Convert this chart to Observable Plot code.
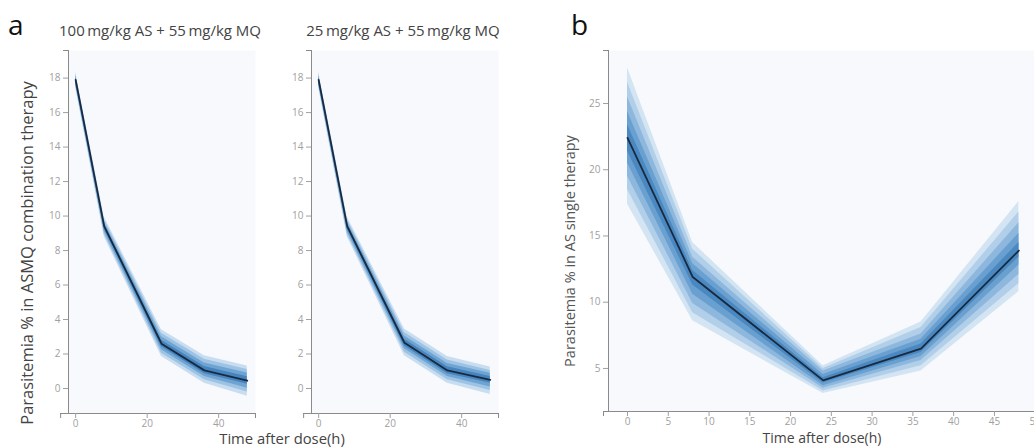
<!DOCTYPE html>
<html>
<head>
<meta charset="utf-8">
<script src="https://cdn.jsdelivr.net/npm/d3@7"></script>
<script src="https://cdn.jsdelivr.net/npm/@observablehq/plot@0.6"></script>
<style>
  html, body { margin: 0; padding: 0; background: #fff; overflow: hidden; }
  #wrap { position: relative; width: 1034px; height: 448px; overflow: hidden; font-family: "Open Sans", "Noto Sans", sans-serif; }
  .abs { position: absolute; white-space: nowrap; line-height: 1; }
  .panel { position: absolute; top: 0; }
  .panel svg { overflow: visible; max-width: none !important; }
</style>
</head>
<body>
<div id="wrap"></div>
<script>
// ---------------- data ----------------
const times = [0, 8, 24, 36, 48];

// Panel a, left: 100 mg/kg AS + 55 mg/kg MQ
const a1Median = [17.9, 9.4, 2.6, 1.05, 0.45];
const a1Hi = [
  [18.35, 9.95, 3.4, 1.9, 1.3],
  [18.25, 9.8, 3.2, 1.7, 1.1],
  [18.15, 9.65, 3.0, 1.48, 0.9],
  [18.05, 9.52, 2.8, 1.27, 0.68]
];
const a1Lo = [
  [17.45, 8.8, 1.85, 0.3, -0.45],
  [17.55, 8.95, 2.05, 0.5, -0.2],
  [17.65, 9.1, 2.25, 0.7, 0.02],
  [17.75, 9.27, 2.42, 0.86, 0.24]
];

// Panel a, right: 25 mg/kg AS + 55 mg/kg MQ
const a2Median = [17.9, 9.4, 2.65, 1.05, 0.5];
const a2Hi = [
  [18.35, 9.95, 3.45, 1.85, 1.25],
  [18.25, 9.8, 3.25, 1.65, 1.05],
  [18.15, 9.65, 3.05, 1.45, 0.88],
  [18.05, 9.52, 2.85, 1.26, 0.7]
];
const a2Lo = [
  [17.45, 8.8, 1.9, 0.3, -0.35],
  [17.55, 8.95, 2.1, 0.5, -0.12],
  [17.65, 9.1, 2.3, 0.7, 0.08],
  [17.75, 9.27, 2.47, 0.86, 0.3]
];

// Panel b: AS single therapy
const bMedian = [22.4, 11.9, 4.1, 6.5, 13.9];
const bHi = [
  [27.7, 14.5, 5.2, 8.5, 17.6],
  [26.6, 14.0, 5.0, 8.1, 16.8],
  [25.5, 13.4, 4.8, 7.6, 16.0],
  [24.4, 12.9, 4.55, 7.2, 15.2],
  [23.4, 12.4, 4.3, 6.85, 14.5]
];
const bLo = [
  [17.4, 8.6, 3.1, 4.8, 10.8],
  [18.5, 9.2, 3.3, 5.2, 11.4],
  [19.5, 9.9, 3.5, 5.6, 12.1],
  [20.5, 10.6, 3.7, 5.9, 12.8],
  [21.4, 11.3, 3.9, 6.2, 13.4]
];

const aXTicks = [0, 20, 40];
const aYTicks = [0, 2, 4, 6, 8, 10, 12, 14, 16, 18];
const bXTicks = [0, 5, 10, 15, 20, 25, 30, 35, 40, 45, 50];
const bYTicks = [5, 10, 15, 20, 25];

const aTitles = ["100\u2009mg/kg AS + 55\u2009mg/kg MQ", "25\u2009mg/kg AS + 55\u2009mg/kg MQ"];
const aYLabel = "Parasitemia % in ASMQ combination therapy";
const bYLabel = "Parasitemia % in AS single therapy";
const xLabel = "Time after dose(h)";

const aColors = ["#c9ddf0", "#9dc3e4", "#6fa4d2", "#4584bf"];
const bColors = ["#d3e4f3", "#b2cfe9", "#8db7dd", "#69a0cf", "#4a88c1"];

// ---------------- drawing ----------------
const wrap = document.getElementById("wrap");

function bandRows(hi, lo) {
  const rows = [];
  hi.forEach((h, k) => times.forEach((t, i) => rows.push({level: k, t, hi: h[i], lo: lo[k][i]})));
  return rows;
}

function panel({left, width, marginLeft, marginRight, marginBottom, xDomain, yDomain, xAxisStart, median, hi, lo, colors, xTicks, yTicks}) {
  const rows = bandRows(hi, lo);
  const med = times.map((t, i) => ({t, v: median[i]}));
  const axisColor = "#8a8a8a";
  const marks = [
    Plot.frame({fill: "#f8f9fc", stroke: "none"}),
    ...colors.map((c, k) => Plot.areaY(rows.filter(r => r.level === k), {x: "t", y1: "lo", y2: "hi", fill: c})),
    Plot.line(med, {x: "t", y: "v", stroke: "#1a2a3e", strokeWidth: 1.8}),
    Plot.ruleX([xDomain[0]], {stroke: axisColor}),
    Plot.ruleY([yDomain[0]], {x1: xAxisStart, x2: xDomain[1], stroke: axisColor}),
    Plot.ruleX([xAxisStart, xDomain[1]], {y1: yDomain[0], y2: yDomain[0], insetBottom: -5, stroke: axisColor}),
    Plot.ruleY([yDomain[1]], {x1: xDomain[0], x2: xDomain[0], insetLeft: -5, stroke: axisColor}),
    Plot.axisX({ticks: xTicks, tickSize: 5, tickPadding: 1, label: null, color: "#a0a0a0", fontSize: 10}),
    Plot.axisY({ticks: yTicks, tickSize: 5, tickPadding: 3, label: null, color: "#a0a0a0", fontSize: 10})
  ];
  const svg = Plot.plot({
    width, height: 448,
    marginLeft, marginRight, marginTop: 50, marginBottom,
    x: {domain: xDomain},
    y: {domain: yDomain},
    style: {background: "transparent", fontFamily: "Open Sans, Noto Sans, sans-serif", overflow: "visible"},
    marks
  });
  svg.style.maxWidth = "none";
  const div = document.createElement("div");
  div.className = "panel";
  div.style.left = left + "px";
  div.style.width = width + "px";
  div.appendChild(svg);
  wrap.appendChild(div);
}

const aCommon = {width: 260, marginLeft: 68, marginRight: 5, marginBottom: 35, xDomain: [-2, 50.3], yDomain: [-1.45, 19.6], xAxisStart: -4.2, colors: aColors, xTicks: aXTicks, yTicks: aYTicks};
panel({...aCommon, left: 0, median: a1Median, hi: a1Hi, lo: a1Lo});
panel({...aCommon, left: 243, median: a2Median, hi: a2Hi, lo: a2Lo});
panel({left: 540, width: 520, marginLeft: 68, marginRight: 9, marginBottom: 37, xDomain: [-2.33, 52], yDomain: [1.75, 29], xAxisStart: -2.94, median: bMedian, hi: bHi, lo: bLo, colors: bColors, xTicks: bXTicks, yTicks: bYTicks});

function label(text, css) {
  const d = document.createElement("div");
  d.className = "abs";
  d.textContent = text;
  Object.assign(d.style, css);
  wrap.appendChild(d);
  return d;
}

label("a", {left: "8px", top: "10px", fontSize: "28px", color: "#111"});
label("b", {left: "571px", top: "10px", fontSize: "28px", color: "#111"});
label(aTitles[0], {left: "160px", top: "23px", fontSize: "15px", color: "#444", transform: "translateX(-50%)"});
label(aTitles[1], {left: "403px", top: "23px", fontSize: "15px", color: "#444", transform: "translateX(-50%)"});
label(aYLabel, {left: "27px", top: "253px", fontSize: "16.5px", color: "#444", transform: "translate(-50%,-50%) rotate(-90deg)"});
label(bYLabel, {left: "570px", top: "251px", fontSize: "14.5px", color: "#555", transform: "translate(-50%,-50%) rotate(-90deg)"});
label(xLabel, {left: "282px", top: "431px", fontSize: "14.8px", color: "#444", transform: "translateX(-50%)"});
label(xLabel, {left: "822px", top: "431px", fontSize: "14px", color: "#444", transform: "translateX(-50%)"});
</script>
</body>
</html>
